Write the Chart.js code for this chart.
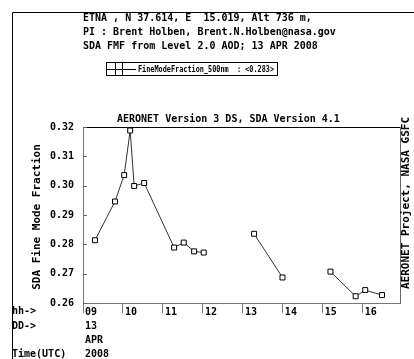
<!DOCTYPE html>
<html>
<head>
<meta charset="utf-8">
<script src="https://cdn.jsdelivr.net/npm/chart.js@4.4.1/dist/chart.umd.min.js"></script>
<style>
  html, body { margin: 0; padding: 0; background: #fff; }
  canvas { display: block; }
</style>
</head>
<body>
<canvas id="c" width="414" height="359"></canvas>
<script>
// ETNA 13 APR 2008, SDA fine mode fraction (500 nm)
var hoursUTC = [9.30, 9.80, 10.03, 10.18, 10.28, 10.53, 11.28, 11.52, 11.78, 12.02, 13.28, 13.99, 15.19, 15.82, 16.06, 16.48];
var fmf500 = [0.2814, 0.2946, 0.3036, 0.3188, 0.2999, 0.3009, 0.2789, 0.2806, 0.2776, 0.2772, 0.2836, 0.2687, 0.2707, 0.2623, 0.2644, 0.2627];
var hourTicks = ["09", "10", "11", "12", "13", "14", "15", "16"];
var dateLines = ["13", "APR", "2008"];
var headerLines = [
  "ETNA , N 37.614, E  15.019, Alt 736 m,",
  "PI : Brent Holben, Brent.N.Holben@nasa.gov",
  "SDA FMF from Level 2.0 AOD; 13 APR 2008"
];
var legendText = "FineModeFraction_500nm  : <0.283>";
var plotTitle = "AERONET Version 3 DS, SDA Version 4.1";
var yTitle = "SDA Fine Mode Fraction";
var sideText = "AERONET Project, NASA GSFC";
var leftLabels = [["hh->", 311], ["DD->", 326], ["Time(UTC)", 354]];

var MONO = "'DejaVu Sans Mono', monospace";

function font(px) { return "bold " + px + "px " + MONO; }

// cornice, intestazione, legenda e testi laterali
var decor = {
  id: "decor",
  beforeDraw: function (chart) {
    var ctx = chart.ctx;
    ctx.save();
    ctx.fillStyle = "#fff";
    ctx.fillRect(0, 0, chart.width, chart.height);
    ctx.restore();
  },
  afterDraw: function (chart) {
    var ctx = chart.ctx, a = chart.chartArea, ys = chart.scales.y;
    ctx.save();
    ctx.lineWidth = 1;
    ctx.strokeStyle = "#000";
    // cornice esterna
    ctx.beginPath();
    ctx.moveTo(12.5, chart.height);
    ctx.lineTo(12.5, 12.5);
    ctx.lineTo(chart.width, 12.5);
    ctx.stroke();
    // bordo alto e destro del grafico
    ctx.beginPath();
    ctx.moveTo(a.left, Math.round(a.top) + 0.5);
    ctx.lineTo(Math.round(a.right) + 0.5, Math.round(a.top) + 0.5);
    ctx.stroke();
    ctx.strokeStyle = "#666";
    ctx.beginPath();
    ctx.moveTo(Math.round(a.right) + 0.5, a.top);
    ctx.lineTo(Math.round(a.right) + 0.5, a.bottom);
    ctx.stroke();
    // tacche interne asse y
    ys.ticks.forEach(function (t) {
      var py = Math.round(ys.getPixelForValue(t.value)) + 0.5;
      ctx.beginPath();
      ctx.moveTo(a.left, py);
      ctx.lineTo(a.left + 4, py);
      ctx.stroke();
    });

    ctx.fillStyle = "#000";
    ctx.textBaseline = "middle";
    ctx.textAlign = "left";
    ctx.font = font(10);
    headerLines.forEach(function (s, i) {
      ctx.fillText(s, 83, 18 + i * 14);
    });
    ctx.fillText(plotTitle, 117, 119);
    leftLabels.forEach(function (l) { ctx.fillText(l[0], 12, l[1]); });

    // legenda
    ctx.strokeStyle = "#000";
    ctx.strokeRect(106.5, 62.5, 171, 13);
    ctx.beginPath();
    ctx.moveTo(106, 69.5);
    ctx.lineTo(136, 69.5);
    ctx.stroke();
    ctx.strokeRect(115.5, 62.5, 7, 13);
    ctx.font = font(9);
    ctx.fillText(legendText, 138, 69.5, 136);

    // titoli verticali
    ctx.font = font(11);
    ctx.textAlign = "center";
    ctx.save();
    ctx.translate(37, 217);
    ctx.rotate(-Math.PI / 2);
    ctx.fillText(yTitle, 0, 0);
    ctx.restore();
    ctx.save();
    ctx.translate(406, 203);
    ctx.rotate(-Math.PI / 2);
    ctx.fillText(sideText, 0, 0);
    ctx.restore();
    ctx.restore();
  }
};

var points = hoursUTC.map(function (h, i) { return { x: h, y: fmf500[i] }; });

new Chart(document.getElementById("c"), {
  type: "line",
  data: {
    datasets: [{
      label: "FineModeFraction_500nm",
      data: points,
      borderColor: "#333",
      borderWidth: 1,
      pointStyle: "rect",
      pointRadius: 3.5,
      pointBorderColor: "#000",
      pointBackgroundColor: "#fff",
      pointBorderWidth: 1,
      tension: 0,
      // interruzione della linea dove mancano misure per più di un'ora
      segment: {
        borderColor: function (c) {
          return (c.p1.parsed.x - c.p0.parsed.x) > 1 ? "rgba(0,0,0,0)" : undefined;
        }
      }
    }]
  },
  options: {
    responsive: false,
    animation: false,
    devicePixelRatio: 1,
    layout: { padding: { left: 0, right: 14, top: 127, bottom: 0 } },
    plugins: {
      legend: { display: false },
      tooltip: { enabled: false },
      title: { display: false }
    },
    scales: {
      x: {
        type: "linear",
        min: 9,
        max: 16.93,
        afterFit: function (s) { s.height = 56; },
        border: { color: "#777", width: 1 },
        grid: { drawOnChartArea: false, drawTicks: true, tickLength: 10, color: "#777" },
        ticks: {
          stepSize: 1,
          includeBounds: false,
          autoSkip: false,
          maxRotation: 0,
          align: "start",
          labelOffset: 2,
          padding: -7,
          color: "#000",
          font: { family: MONO, size: 10, weight: "bold", lineHeight: 1.38 },
          callback: function (v) {
            var lab = hourTicks[Math.round(v) - 9];
            return Math.round(v) === 9 ? [lab].concat(dateLines) : lab;
          }
        }
      },
      y: {
        min: 0.26,
        max: 0.32,
        afterFit: function (s) { s.width = 83; },
        border: { color: "#777", width: 1 },
        grid: { drawOnChartArea: false, drawTicks: false },
        ticks: {
          stepSize: 0.01,
          padding: 9,
          color: "#000",
          font: { family: MONO, size: 10, weight: "bold" },
          callback: function (v) { return v.toFixed(2); }
        }
      }
    }
  },
  plugins: [decor]
});
</script>
</body>
</html>
